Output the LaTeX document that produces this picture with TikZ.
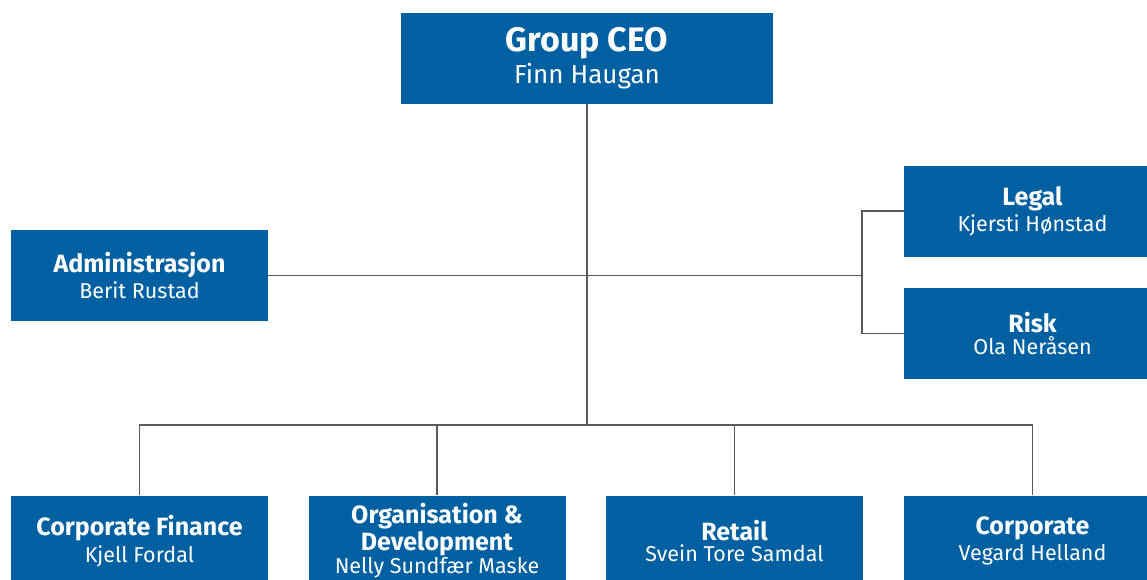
\documentclass[tikz,border=0pt]{standalone}
\usepackage{fontspec}
\setmainfont{Fira Sans}
\definecolor{unitblue}{HTML}{0060A2}
\definecolor{linkgrey}{HTML}{5A5A5A}
% two-line box texts
\newcommand{\ceotext}[2]{{\fontsize{34}{36}\selectfont\bfseries #1}\\[3pt]{\fontsize{26}{28}\selectfont #2}}
\newcommand{\unittext}[2]{{\fontsize{25}{27}\selectfont\bfseries #1}\\[3pt]{\fontsize{21.5}{23}\selectfont #2}}
\begin{document}
\begin{tikzpicture}[x=1pt,y=-1pt,
	unit/.style={fill=unitblue,text=white,minimum width=257pt,minimum height=91pt,align=center,inner sep=0pt},
	link/.style={draw=linkgrey,line width=1.6pt}]
	\useasboundingbox (0,0) rectangle (1147,579);
	\clip (0,0) rectangle (1147,579);
	
	\node[unit, minimum width=372pt] (ceo) at (587,58.5) {\ceotext{Group CEO}{Finn Haugan}};
	
	\node[unit] (admin) at (139.5,275.5) {\unittext{Administrasjon}{Berit Rustad}};
	\node[unit] (legal) at (1032.5,211) {\unittext{Legal}{Kjersti Hønstad}};
	\node[unit] (risk) at (1032.5,333.5) {\unittext{Risk}{Ola Neråsen}};
	
	\node[unit] (cfin) at (139.5,541) {\unittext{Corporate Finance}{Kjell Fordal}};
	\node[unit] (orgdev) at (437,541) {{\fontsize{25}{27}\selectfont\bfseries Organisation \&}\\[1pt]{\fontsize{25}{27}\selectfont\bfseries Development}\\[1pt]{\fontsize{21.5}{23}\selectfont Nelly Sundfær Maske}};
	\node[unit] (retail) at (734.5,541) {\unittext{Retail}{Svein Tore Samdal}};
	\node[unit] (corp) at (1032.5,541) {\unittext{Corporate}{Vegard Helland}};
	
	% connectors
	\coordinate (hub) at (587,425);
	\coordinate (fork) at (862,275.5);
	\draw[link] (ceo.south) -- (hub);
	\draw[link] (admin.east) -- (fork);
	\draw[link] (legal.west) -| (fork) |- (risk.west);
	\draw[link] (cfin.north) |- (hub) -| (corp.north);
	\draw[link] (orgdev.north) -- (orgdev.north |- hub);
	\draw[link] (retail.north) -- (retail.north |- hub);
\end{tikzpicture}
\end{document}
